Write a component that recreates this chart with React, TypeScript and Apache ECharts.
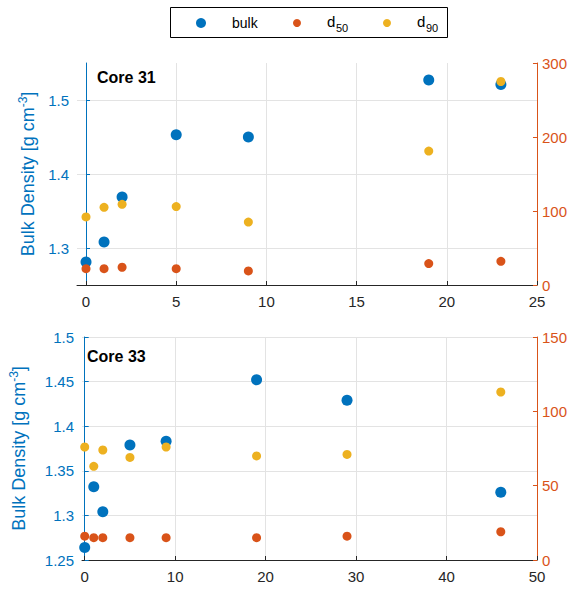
import React, { useEffect, useRef } from "react";
import * as echarts from "echarts";

// ---- data ----
const depthTop = [0, 1, 2, 5, 9, 19, 23];
const bulkTop = [1.281, 1.308, 1.369, 1.453, 1.45, 1.527, 1.521];
const d50Top = [22, 22, 24, 22, 19, 29, 32];
const d90Top = [92, 105, 109, 106, 85, 181, 275];

const depthBot = [0, 1, 2, 5, 9, 19, 29, 46];
const bulkBot = [1.264, 1.332, 1.304, 1.379, 1.383, 1.452, 1.429, 1.326];
const d50Bot = [16, 15, 15, 15, 15, 15, 16, 19];
const d90Bot = [76, 63, 74, 69, 76, 70, 71, 113];

const xTicksTop = [0, 5, 10, 15, 20, 25];
const xTicksBot = [0, 10, 20, 30, 40, 50];
const yTicksTopLeft = [1.3, 1.4, 1.5];

const titles = ["Core 31", "Core 33"];
const seriesNames = ["bulk", "d50", "d90"];

const BLUE = "#0072BD";
const ORANGE = "#D95319";
const YELLOW = "#EDB120";
const DARK = "#262626";
const GRID = "#e3e3e3";
const FONT = "Liberation Sans, Arial, sans-serif";

const pair = (xs: number[], ys: number[]) => xs.map((x, i) => [x, ys[i]]);

export default function App() {
  const ref = useRef<HTMLDivElement>(null);
  useEffect(() => {
    if (!ref.current) return;
    const chart = echarts.init(ref.current, undefined, { renderer: "svg" });

    const grids = [
      { left: 77, top: 63, width: 461, height: 222 },
      { left: 77, top: 337, width: 461, height: 223 },
    ];

    const xAxisBase = (gridIndex: number, min: number, max: number, ticks: number[]) => ({
      type: "value",
      gridIndex,
      min,
      max,
      axisLine: { show: true, onZero: false, lineStyle: { color: DARK, width: 1 } },
      axisTick: { show: true, inside: true, length: 4, customValues: ticks, lineStyle: { color: DARK } },
      axisLabel: { customValues: ticks, color: DARK, fontSize: 15, fontFamily: FONT, margin: 9 },
      splitLine: { show: true, lineStyle: { color: GRID } },
    });

    const yName = "{a|Bulk Density [g cm}{s|-3}{a|]}";
    const leftY = (gridIndex: number, min: number, max: number, extra: any) => ({
      type: "value",
      gridIndex,
      position: "left",
      min,
      max,
      name: yName,
      nameLocation: "middle",
      nameRotate: 90,
      nameTextStyle: {
        rich: {
          a: { fontSize: 18, color: BLUE, fontFamily: FONT, lineHeight: 22 },
          s: { fontSize: 12, color: BLUE, fontFamily: FONT, verticalAlign: "top", lineHeight: 12 },
        },
      },
      axisLine: { show: true, lineStyle: { color: BLUE, width: 1 } },
      axisTick: { show: true, inside: true, length: 4, lineStyle: { color: BLUE } },
      axisLabel: { color: BLUE, fontSize: 15, fontFamily: FONT, margin: 8 },
      splitLine: { show: true, lineStyle: { color: GRID } },
      ...extra,
    });
    const rightY = (gridIndex: number, max: number, interval: number) => ({
      type: "value",
      gridIndex,
      position: "right",
      min: 0,
      max,
      interval,
      axisLine: { show: true, lineStyle: { color: ORANGE, width: 1 } },
      axisTick: { show: true, inside: true, length: 4, lineStyle: { color: ORANGE } },
      axisLabel: { color: ORANGE, fontSize: 15, fontFamily: FONT, margin: 5 },
      splitLine: { show: false },
    });

    const sc = (name: string, xi: number, yi: number, data: number[][], color: string, size: number, z: number) => ({
      type: "scatter",
      name,
      xAxisIndex: xi,
      yAxisIndex: yi,
      data,
      symbol: "circle",
      symbolSize: size,
      itemStyle: { color, opacity: 1 },
      z,
    });

    const legendX = [201, 297, 387];
    const legendColors = [BLUE, ORANGE, YELLOW];

    const option: any = {
      animation: false,
      backgroundColor: "#ffffff",
      grid: grids,
      xAxis: [xAxisBase(0, -0.5, 25, xTicksTop), xAxisBase(1, -0.3, 50, xTicksBot)],
      yAxis: [
        leftY(0, 1.25, 1.55, {
          nameGap: 34,
          axisTick: { show: true, inside: true, length: 4, customValues: yTicksTopLeft, lineStyle: { color: BLUE } },
          axisLabel: { customValues: yTicksTopLeft, color: BLUE, fontSize: 15, fontFamily: FONT, margin: 8 },
        }),
        rightY(0, 300, 100),
        leftY(1, 1.25, 1.5, { interval: 0.05, nameGap: 52 }),
        rightY(1, 150, 50),
      ],
      series: [
        sc(seriesNames[0], 0, 0, pair(depthTop, bulkTop), BLUE, 11, 2),
        sc(seriesNames[1], 0, 1, pair(depthTop, d50Top), ORANGE, 9, 3),
        sc(seriesNames[2], 0, 1, pair(depthTop, d90Top), YELLOW, 9, 4),
        sc(seriesNames[0], 1, 2, pair(depthBot, bulkBot), BLUE, 11, 2),
        sc(seriesNames[1], 1, 3, pair(depthBot, d50Bot), ORANGE, 9, 3),
        sc(seriesNames[2], 1, 3, pair(depthBot, d90Bot), YELLOW, 9, 4),
      ],
      graphic: [
        { type: "text", left: 97, top: 69, style: { text: titles[0], font: `bold 16px ${FONT}`, fill: "#000" }, z: 10 },
        { type: "text", left: 87, top: 348, style: { text: titles[1], font: `bold 16px ${FONT}`, fill: "#000" }, z: 10 },
        { type: "rect", shape: { x: 170.5, y: 7.5, width: 277, height: 30 }, style: { fill: "#fff", stroke: "#000", lineWidth: 1 }, z: 10 },
        ...legendX.map((x, i) => ({
          type: "circle",
          shape: { cx: x, cy: 23, r: i === 0 ? 5 : 4 },
          style: { fill: legendColors[i] },
          z: 11,
        })),
        { type: "text", x: 232, y: 23, style: { text: "bulk", font: `14px ${FONT}`, fill: "#000", verticalAlign: "middle" }, z: 11 },
        { type: "text", x: 327, y: 21, style: { text: "d", font: `15px ${FONT}`, fill: "#000", verticalAlign: "middle" }, z: 11 },
        { type: "text", x: 336, y: 28, style: { text: "50", font: `11px ${FONT}`, fill: "#000", verticalAlign: "middle" }, z: 11 },
        { type: "text", x: 417, y: 21, style: { text: "d", font: `15px ${FONT}`, fill: "#000", verticalAlign: "middle" }, z: 11 },
        { type: "text", x: 426, y: 28, style: { text: "90", font: `11px ${FONT}`, fill: "#000", verticalAlign: "middle" }, z: 11 },
      ],
    };
    chart.setOption(option);
    return () => chart.dispose();
  }, []);
  return <div ref={ref} style={{ position: "fixed", left: 0, top: 0, width: 570, height: 592, background: "#fff" }} />;
}
